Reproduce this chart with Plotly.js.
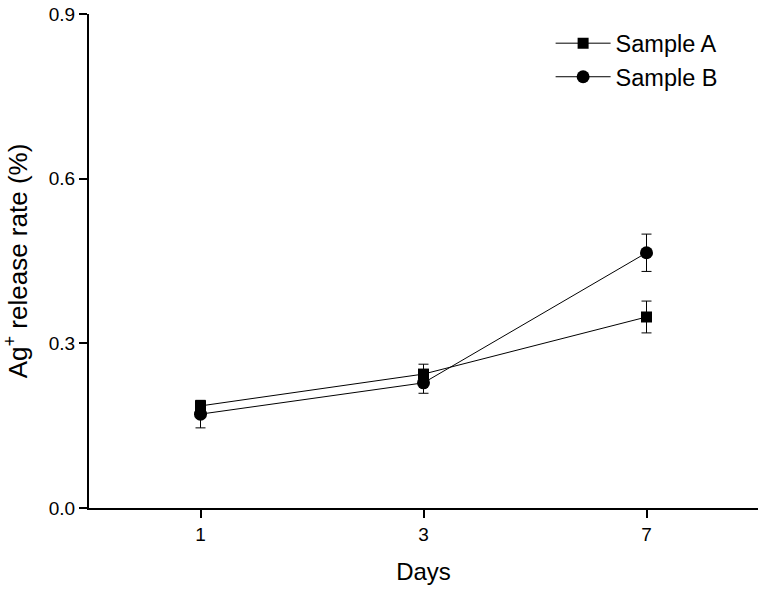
<!DOCTYPE html>
<html>
<head>
<meta charset="utf-8">
<script src="https://cdn.plot.ly/plotly-3.0.1.min.js"></script>
<style>html,body{margin:0;padding:0;background:#fff;}#chart{width:768px;height:589px;}</style>
</head>
<body>
<div id="chart"></div>
<script>
const days = ["1", "3", "7"];
const sampleA = [0.186, 0.244, 0.348];
const sampleAErr = [0.010, 0.018, 0.029];
const sampleB = [0.171, 0.228, 0.465];
const sampleBErr = [0.025, 0.019, 0.034];
const yTicks = [0.0, 0.3, 0.6, 0.9];
const yTickText = ["0.0", "0.3", "0.6", "0.9"];

const xIdx = days.map((d, i) => i);
const font = "Liberation Sans, Arial, sans-serif";

const traces = [
  {
    name: "Sample A", x: xIdx, y: sampleA, type: "scatter", mode: "lines+markers",
    line: {color: "#000", width: 1},
    marker: {symbol: "square", size: 11, color: "#000"},
    error_y: {type: "data", array: sampleAErr, visible: true, color: "#000", thickness: 1, width: 5}
  },
  {
    name: "Sample B", x: xIdx, y: sampleB, type: "scatter", mode: "lines+markers",
    line: {color: "#000", width: 1},
    marker: {symbol: "circle", size: 13, color: "#000"},
    error_y: {type: "data", array: sampleBErr, visible: true, color: "#000", thickness: 1, width: 5}
  }
];

const layout = {
  width: 768, height: 589,
  margin: {l: 89, r: 10, t: 14, b: 81},
  paper_bgcolor: "#fff", plot_bgcolor: "#fff",
  showlegend: true,
  legend: {x: 0.69, y: 0.985, xanchor: "left", yanchor: "top", font: {family: font, size: 23.5, color: "#000"}, bgcolor: "rgba(0,0,0,0)", itemwidth: 55, tracegroupgap: 0},
  xaxis: {
    range: [-0.5, 2.5], tickmode: "array", tickvals: xIdx, ticktext: days,
    showline: true, linecolor: "#000", linewidth: 2, mirror: false,
    ticks: "outside", ticklen: 8, tickwidth: 2, tickcolor: "#000",
    showgrid: false, zeroline: false, automargin: false,
    tickfont: {family: font, size: 19, color: "#000"},
    title: {text: "Days", font: {family: font, size: 24, color: "#000"}, standoff: 19}
  },
  yaxis: {
    range: [0, 0.9], tickmode: "array", tickvals: yTicks, ticktext: yTickText,
    showline: true, linecolor: "#000", linewidth: 2, mirror: false,
    ticks: "outside", ticklen: 8, tickwidth: 2, tickcolor: "#000",
    showgrid: false, zeroline: false, automargin: false,
    tickfont: {family: font, size: 19, color: "#000"},
    title: {text: "Ag<sup>+</sup> release rate (%)", font: {family: font, size: 26, color: "#000"}, standoff: 16}
  }
};

Plotly.newPlot("chart", traces, layout, {displayModeBar: false, staticPlot: true});
</script>
</body>
</html>
